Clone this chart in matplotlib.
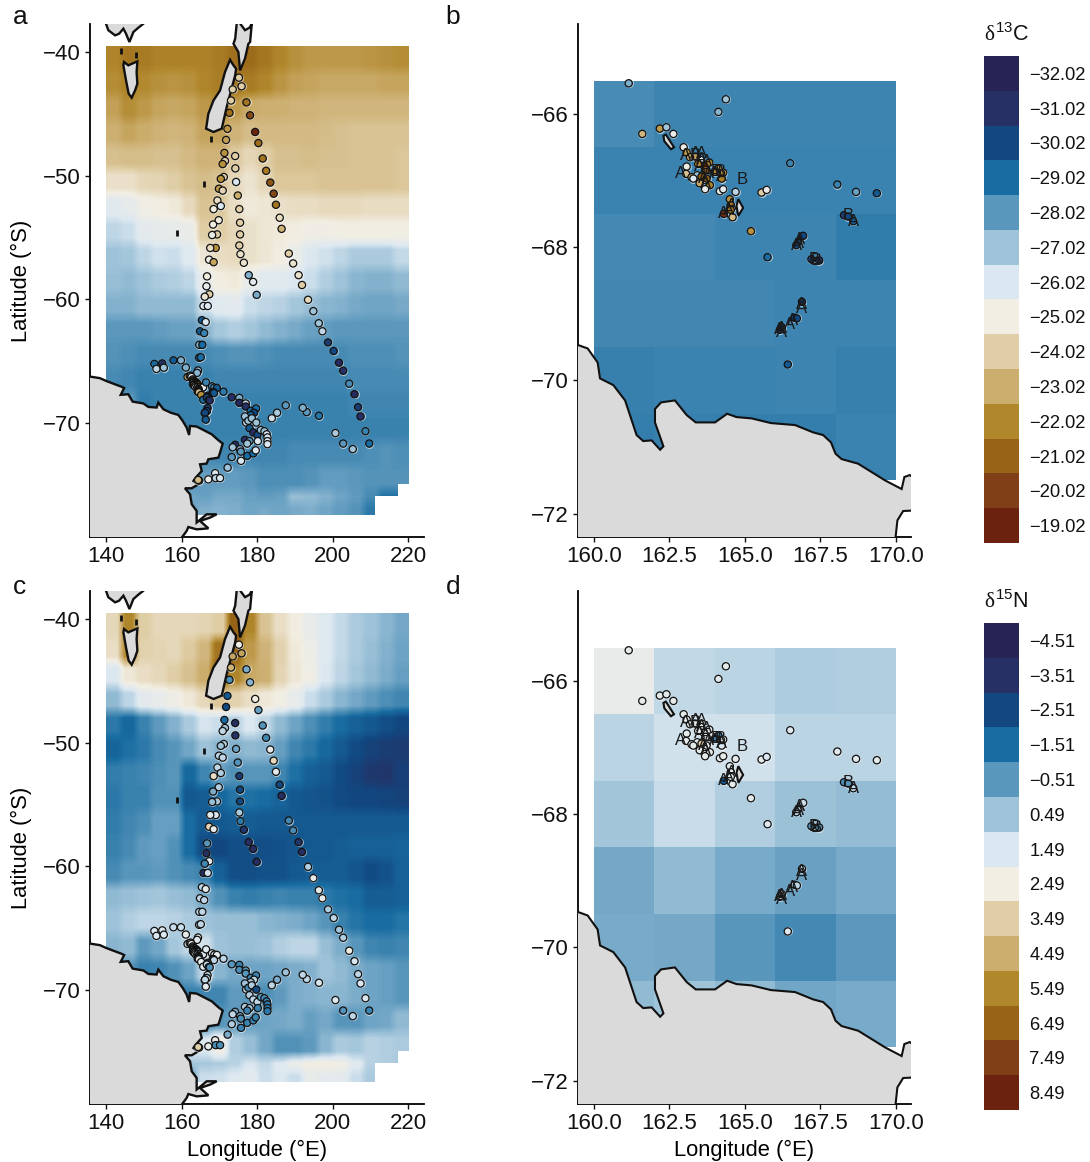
import numpy as np
import matplotlib
matplotlib.use('Agg')
import matplotlib.pyplot as plt
from matplotlib.colors import LinearSegmentedColormap, Normalize
from matplotlib.patches import Polygon

plt.rcParams['font.family'] = ['Liberation Sans', 'DejaVu Sans']
plt.rcParams['mathtext.fontset'] = 'custom'
plt.rcParams['mathtext.rm'] = 'Liberation Sans'
plt.rcParams['mathtext.it'] = 'Liberation Serif'
plt.rcParams['mathtext.default'] = 'rm'

W, H = 1090, 1162

# legend levels, top to bottom
C13_LEVELS = [-32.02, -31.02, -30.02, -29.02, -28.02, -27.02, -26.02,
              -25.02, -24.02, -23.02, -22.02, -21.02, -20.02, -19.02]
N15_LEVELS = [-4.51, -3.51, -2.51, -1.51, -0.51, 0.49, 1.49,
              2.49, 3.49, 4.49, 5.49, 6.49, 7.49, 8.49]
LEVEL_COLORS = ['#262454', '#263064', '#124780', '#186ca1', '#5a97bc', '#9fc3d9', '#dce8f1',
                '#f2eee3', '#e0cea7', '#cbad6d', '#b1872c', '#966317', '#803f16', '#6b220e']

# large map isoscape, 4 deg columns from 140E, rows from -39.5 south
LARGE_ROW_DEG = [2] * 18 + [1, 1]
C13_LARGE = [
    [-22.0, -21.6, -21.7, -21.9, -21.9, -21.9, -21.9, -21.7, -21.4, -21.3, -21.6, -22.0, -22.3, -22.5, -22.5, -22.5, -22.5, -22.4, -22.3, -22.2],
    [-22.2, -21.9, -22.1, -22.3, -22.4, -22.3, -22.0, -21.8, -21.6, -21.7, -22.0, -22.4, -22.7, -22.8, -22.9, -22.9, -22.9, -22.9, -22.8, -22.8],
    [-22.7, -22.2, -22.5, -22.8, -22.9, -22.8, -22.5, -22.2, -22.6, -23.0, -23.1, -23.1, -23.2, -23.2, -23.3, -23.3, -23.3, -23.3, -23.3, -23.3],
    [-23.1, -22.8, -23.0, -23.2, -23.3, -23.2, -22.8, -22.7, -23.2, -23.5, -23.4, -23.4, -23.4, -23.4, -23.5, -23.6, -23.7, -23.7, -23.7, -23.7],
    [-23.6, -23.5, -23.5, -23.6, -23.6, -23.4, -23.2, -23.2, -23.9, -24.3, -24.0, -23.6, -23.6, -23.5, -23.6, -23.6, -23.7, -23.7, -23.7, -23.8],
    [-24.6, -24.6, -24.3, -24.2, -24.0, -23.7, -23.5, -23.7, -24.3, -24.7, -24.3, -23.8, -23.8, -23.8, -23.7, -23.7, -23.7, -23.7, -23.7, -23.8],
    [-25.8, -25.6, -25.2, -25.0, -24.9, -24.4, -23.7, -23.9, -24.5, -24.9, -24.8, -24.6, -24.5, -24.5, -24.4, -24.4, -24.4, -24.5, -24.5, -24.5],
    [-26.5, -26.3, -25.7, -25.6, -25.5, -25.4, -24.0, -24.0, -24.3, -24.6, -24.8, -24.9, -25.0, -25.2, -25.2, -25.1, -25.1, -25.1, -25.1, -25.1],
    [-27.0, -26.9, -26.5, -26.2, -26.3, -25.9, -24.8, -24.5, -24.4, -24.6, -24.8, -25.0, -25.4, -26.0, -26.2, -26.5, -26.8, -26.8, -26.8, -26.4],
    [-27.1, -27.2, -27.0, -26.8, -26.7, -26.5, -25.5, -25.0, -24.9, -25.5, -25.8, -25.8, -26.0, -26.3, -26.7, -27.0, -27.3, -27.4, -27.4, -27.2],
    [-27.4, -27.4, -27.2, -27.2, -27.2, -27.2, -26.3, -25.8, -25.7, -26.3, -26.5, -26.6, -26.9, -27.1, -27.3, -27.4, -27.6, -27.7, -27.7, -27.6],
    [-28.0, -28.0, -28.0, -27.9, -27.8, -27.8, -27.4, -26.9, -26.7, -26.9, -27.2, -27.4, -27.6, -27.8, -27.9, -28.0, -28.0, -28.0, -28.0, -28.0],
    [-28.1, -28.2, -28.3, -28.3, -28.3, -28.3, -28.3, -28.2, -28.1, -28.1, -28.2, -28.3, -28.3, -28.3, -28.3, -28.3, -28.2, -28.2, -28.2, -28.1],
    [-28.3, -28.4, -28.5, -28.5, -28.5, -28.5, -28.5, -28.4, -28.4, -28.4, -28.4, -28.4, -28.4, -28.4, -28.4, -28.4, -28.3, -28.3, -28.3, -28.3],
    [-28.2, -28.0, -28.6, -28.5, -28.5, -28.5, -28.5, -28.5, -28.5, -28.5, -28.5, -28.5, -28.5, -28.5, -28.5, -28.5, -28.4, -28.4, -28.4, -28.4],
    [-28.5, -28.5, -28.5, -28.5, -28.5, -28.5, -28.5, -28.5, -28.5, -28.5, -28.5, -28.5, -28.5, -28.5, -28.5, -28.5, -28.5, -28.5, -28.5, -28.5],
    [-28.3, -28.3, -28.3, -28.3, -28.3, -28.3, -28.3, -28.4, -28.4, -28.4, -28.4, -28.4, -28.3, -28.3, -28.3, -28.3, -28.3, -28.2, -28.1, -28.2],
    [-28.0, -28.0, -28.0, -28.0, -28.0, -28.0, -27.9, -27.9, -27.9, -28.0, -28.2, -28.2, -28.2, -28.1, -27.9, -27.9, -28.0, -28.1, -28.1, -28.1],
    [-27.6, -27.6, -27.6, -27.6, -27.6, -27.7, -27.8, -27.6, -27.6, -27.8, -27.9, -27.8, -27.1, -27.2, -27.4, -27.7, -27.9, -28.3, -28.9, -28.9],
    [-27.8, -27.8, -27.8, -27.8, -27.8, -27.8, -27.5, -27.4, -27.5, -27.7, -27.6, -27.7, -27.6, -27.5, -27.7, -27.9, -28.1, -28.7, np.nan, np.nan],
]
N15_LARGE = [
    [3.2, 5.5, 3.5, 3.2, 3.2, 3.2, 3.3, 3.5, 6.5, 5.5, 3.8, 3.0, 2.5, 2.0, 1.6, 1.1, 0.7, 0.5, 0.2, -0.1],
    [3.0, 5.4, 3.4, 3.3, 3.2, 3.6, 4.2, 6.0, 6.5, 5.0, 4.3, 3.4, 2.6, 2.2, 1.6, 1.1, 0.7, 0.4, 0.1, -0.2],
    [1.5, 2.7, 3.0, 3.2, 3.5, 3.9, 4.5, 6.5, 5.5, 4.6, 4.4, 3.3, 2.7, 2.3, 1.5, 1.0, 0.6, 0.3, 0.0, -0.3],
    [0.3, 1.0, 1.8, 2.0, 2.3, 2.7, 3.2, 3.7, 3.4, 3.0, 2.7, 2.4, 2.0, 1.2, 0.7, 0.2, -0.1, -0.4, -0.7, -0.9],
    [-1.2, -1.6, -1.0, -0.4, 0.1, 0.7, 1.4, 1.2, 0.9, 1.5, 1.0, 0.3, -0.2, -0.7, -1.1, -1.5, -1.8, -2.0, -2.3, -2.5],
    [-1.7, -1.4, -1.2, -0.8, -0.5, -0.1, 0.5, 0.2, 0.1, 0.3, 0.2, -0.3, -0.9, -1.2, -1.6, -2.0, -2.4, -2.7, -2.9, -3.0],
    [-1.1, -1.0, -0.9, -0.7, -0.5, -1.6, -0.9, -0.3, -0.6, -0.5, -0.5, -0.9, -1.4, -1.8, -2.0, -2.4, -2.7, -3.1, -3.2, -2.8],
    [-1.2, -1.0, -1.0, -0.6, -0.6, -2.0, -1.9, -1.6, -1.3, -1.4, -1.5, -1.7, -2.0, -2.1, -2.2, -2.4, -2.5, -2.5, -2.6, -2.7],
    [-1.1, -0.9, -0.7, -0.3, -0.3, -1.5, -2.0, -2.0, -1.9, -1.9, -2.0, -2.0, -2.0, -2.0, -2.0, -2.0, -2.0, -2.0, -2.0, -2.0],
    [-1.0, -0.8, -0.4, -0.3, -0.6, -1.5, -2.4, -2.5, -2.3, -2.3, -2.3, -2.2, -2.1, -2.0, -2.0, -1.9, -1.8, -1.8, -1.8, -1.7],
    [-0.8, -0.5, -0.5, -0.4, -0.6, -0.8, -1.0, -1.8, -2.3, -2.3, -2.2, -2.2, -2.0, -1.9, -1.9, -1.9, -2.1, -2.4, -2.2, -1.8],
    [0.3, 0.4, 0.5, 0.6, 0.4, 0.3, -0.1, -0.6, -1.0, -1.1, -1.0, -0.9, -1.0, -1.0, -1.2, -1.4, -1.5, -1.9, -1.9, -1.8],
    [0.5, 0.8, 1.0, 1.0, 0.9, 0.7, 0.5, 0.4, 0.4, 0.4, 0.2, 0.1, 0.0, -0.2, -0.5, -1.0, -1.3, -1.5, -1.5, -1.3],
    [0.2, 0.3, -0.4, -0.1, 0.6, 1.0, 1.3, 0.5, 0.4, 0.4, 0.5, 0.8, 1.0, 1.0, 0.4, 0.0, -0.5, -0.9, -1.0, -0.9],
    [-0.5, -0.5, -1.0, -0.9, -0.6, -0.2, 1.0, 0.2, -0.1, -0.2, -0.2, -0.1, 0.0, 0.1, 0.5, 0.3, 0.0, -0.2, -0.3, -0.5],
    [-0.8, -0.8, -0.8, -0.8, -0.8, -1.0, -0.9, -0.9, -0.4, -0.5, -0.7, -0.4, 0.0, 0.1, 0.2, 0.2, 0.0, -0.2, -0.3, -0.5],
    [-0.5, -0.5, -0.5, -0.5, -0.5, -0.5, -0.7, -0.5, -0.4, -0.3, -0.2, -0.1, 0.0, -0.3, -0.1, -0.5, -0.5, -0.2, -0.1, 0.3],
    [1.0, 1.0, 1.0, 1.0, 1.0, 1.5, 1.5, 2.4, 0.8, 0.4, -0.1, -0.6, -0.6, -0.4, 0.2, 0.7, 0.6, 0.9, 0.8, 0.7],
    [0.6, 0.6, 0.6, 0.6, 0.6, 0.6, 0.6, 0.7, 0.9, 1.4, 1.1, 1.6, 2.2, 2.5, 2.6, 2.4, 1.7, 0.9, 0.8, 0.6],
    [-0.2, -0.2, -0.2, -0.2, -0.2, -0.2, 1.2, 1.3, 1.6, 1.8, 1.2, 1.5, 1.2, 2.0, 1.8, 1.8, 1.2, 0.7, np.nan, np.nan],
]

# zoomed map isoscape, 2 by 1 deg cells
ZOOM_LON_EDGES = [160, 162, 164, 166, 168, 170]
ZOOM_LAT_EDGES = [-65.5, -66.5, -67.5, -68.5, -69.5, -70.5, -71.5]
C13_ZOOM = [
    [-28.27, -28.45, -28.45, -28.45, -28.42],
    [-28.5, -28.5, -28.47, -28.47, -28.47],
    [-28.35, -28.35, -28.45, -28.45, -28.62],
    [-28.4, -28.4, -28.37, -28.42, -28.45],
    [-28.55, -28.5, -28.47, -28.42, -28.55],
    [-28.6, -28.55, -28.6, -28.6, -28.5],
]
N15_ZOOM = [
    [2.0, 1.05, 0.95, 0.75, 0.8],
    [0.95, 1.3, 1.3, 0.95, 0.95],
    [0.55, 1.15, 0.8, 0.45, 0.35],
    [-0.1, 0.3, -0.05, -0.25, -0.05],
    [-0.05, -0.1, -0.5, -0.85, -0.45],
    [0.3, 0.5, 0.3, -0.15, -0.05],
]

# stations: along the transects, Ross Sea shelf, Balleny / Terra Nova cluster
STN_LON = [175.2, 175.9, 173.55, 173.1, 177.2, 172.7, 178.15, 172.15, 179.5, 180.35,
           171.8, 171.35, 174.2, 181.5, 171.5, 170.9, 174.25, 182.4, 171.2, 170.4,
           174.45, 183.5, 169.9, 170.9, 174.9, 184.4, 169.5, 170.4, 185.0, 168.5,
           175.3, 186.0, 169.85, 168.35, 175.5, 186.5, 169.4, 168.1, 175.5, 175.3,
           169.05, 167.6, 188.4, 175.6, 167.3, 168.5, 176.5, 189.55, 177.8, 166.75,
           191.0, 178.95, 166.6, 191.9, 179.9, 167.35, 166.15, 165.8, 166.95, 193.5,
           194.9, 196.35, 197.3, 165.4, 166.4, 164.9, 166.0, 198.8, 164.7, 165.5,
           200.3, 201.7, 202.8, 204.4, 205.8, 206.75, 207.4, 208.7, 209.7, 205.35,
           202.8, 200.75, 196.4, 193.15, 192.1, 187.6, 185.3, 183.9, 152.8, 154.9,
           153.35, 155.3, 157.85, 159.85, 164.65, 165.1, 171.1,
           # east shelf
           173.3, 175.3, 175.3, 177.0, 177.0, 178.3, 179.75, 179.2, 178.3, 176.8,
           177.1, 177.7, 178.6, 179.8, 178.0, 179.0, 180.1, 181.0, 181.95, 182.55,
           182.75, 182.75, 182.75, 180.2, 176.8, 178.0, 177.4, 174.2, 173.55, 175.5,
           173.3, 175.75, 175.7, 177.4, 179.0, 179.65, 172.2, 168.9, 167.1, 169.05,
           170.2, 164.65, 164.4,
           # cluster
           161.15, 164.37, 164.12, 161.6, 162.18, 162.4, 162.63, 162.97, 163.07, 163.35,
           163.18, 163.53, 163.82, 163.64, 163.45, 163.07, 163.7, 164.12, 164.28, 164.0,
           163.05, 163.23, 163.42, 163.56, 163.73, 164.23, 163.29, 163.84, 163.5, 163.68,
           164.17, 164.28, 164.69, 165.55, 165.72, 164.5, 164.53, 164.53, 164.3, 164.59,
           165.2, 165.75, 166.5, 168.06, 168.68, 169.37, 168.28, 168.42, 168.59, 166.93,
           166.77, 166.7, 167.2, 167.46, 166.89, 166.65, 166.72, 166.16, 166.22, 166.42]
STN_LAT = [-42.05, -42.75, -43.0, -43.9, -44.05, -44.9, -45.1, -46.2, -46.45, -47.35,
           -47.1, -48.15, -48.4, -48.6, -48.8, -49.05, -49.4, -49.6, -50.1, -50.25,
           -50.5, -50.55, -51.05, -51.2, -51.6, -51.45, -52.0, -52.45, -52.35, -52.7,
           -52.7, -53.4, -53.6, -53.95, -53.8, -54.3, -54.75, -54.8, -54.75, -55.65,
           -55.85, -55.85, -56.3, -56.35, -56.8, -57.0, -57.05, -57.1, -58.05, -58.15,
           -58.05, -58.6, -58.95, -58.85, -59.65, -59.6, -59.8, -60.55, -60.55, -60.05,
           -60.97, -61.95, -62.6, -61.7, -61.85, -62.6, -62.75, -63.5, -63.7, -63.7,
           -64.2, -65.15, -65.8, -66.85, -67.7, -68.75, -69.5, -70.7, -71.7, -72.15,
           -71.7, -70.85, -69.45, -69.15, -68.8, -68.6, -69.2, -69.65, -65.25, -65.2,
           -65.65, -65.55, -64.95, -64.95, -64.75, -64.7, -67.5,
           -67.95, -68.0, -68.4, -68.45, -68.7, -69.05, -68.85, -69.2, -69.4, -69.5,
           -70.0, -69.85, -69.65, -70.0, -70.45, -70.8, -71.0, -70.6, -70.7, -70.95,
           -71.2, -71.5, -71.75, -71.5, -71.4, -71.5, -71.7, -71.8, -72.0, -72.15,
           -72.8, -73.1, -72.35, -72.7, -72.5, -72.25, -73.65, -74.1, -74.6, -74.5,
           -74.5, -74.7, -74.65,
           -65.54, -65.78, -65.97, -66.3, -66.22, -66.2, -66.3, -66.5, -66.58, -66.64,
           -66.65, -66.69, -66.73, -66.78, -66.75, -66.79, -66.84, -66.82, -66.88, -66.87,
           -66.9, -66.95, -66.92, -66.94, -66.97, -66.97, -66.97, -67.07, -67.04, -67.13,
           -67.16, -67.13, -67.17, -67.18, -67.14, -67.28, -67.37, -67.44, -67.5, -67.55,
           -67.76, -68.15, -66.74, -67.06, -67.17, -67.19, -67.52, -67.54, -67.61, -67.83,
           -67.92, -67.97, -68.18, -68.2, -68.82, -69.06, -69.07, -69.24, -69.2, -69.76]
STN_C13 = [-24.0, -24.0, -24.0, -24.0, -21.5, -21.3, -20.3, -22.4, -19.0, -21.3,
           -22.7, -22.3, -24.0, -21.5, -24.2, -22.3, -24.0, -21.7, -24.0, -22.3,
           -26.0, -20.6, -22.5, -24.2, -23.0, -20.3, -24.5, -26.0, -21.5, -25.0,
           -24.0, -24.5, -25.0, -25.0, -24.0, -23.2, -24.0, -25.3, -24.0, -24.0,
           -22.3, -24.5, -24.0, -24.6, -25.0, -22.8, -24.7, -24.7, -27.5, -25.0,
           -24.7, -25.8, -25.6, -24.0, -27.6, -24.0, -24.8, -26.0, -26.0, -24.4,
           -27.0, -27.0, -26.5, -29.5, -26.0, -29.5, -28.5, -30.5, -27.3, -29.0,
           -30.0, -31.5, -31.0, -28.3, -31.5, -30.5, -31.0, -28.5, -29.0, -27.0,
           -28.0, -26.8, -28.8, -28.0, -27.5, -28.0, -26.8, -26.2, -29.0, -31.0,
           -26.5, -27.0, -29.5, -27.5, -28.7, -29.0, -28.7,
           -31.0, -27.5, -31.5, -26.5, -31.0, -29.0, -29.0, -30.0, -29.0, -27.0,
           -26.5, -27.0, -27.0, -27.0, -29.5, -31.0, -30.0, -27.0, -27.0, -26.0,
           -26.0, -26.0, -26.0, -26.0, -31.0, -28.0, -27.0, -31.0, -27.0, -27.0,
           -28.0, -26.0, -28.0, -29.0, -29.0, -26.0, -27.0, -26.0, -25.5, -26.5,
           -26.0, -24.0, -23.5,
           -27.5, -27.0, -27.3, -23.3, -22.5, -27.0, -25.5, -25.2, -22.5, -22.8,
           -23.0, -26.0, -22.0, -19.0, -22.0, -25.2, -21.0, -22.3, -22.5, -22.0,
           -23.7, -23.0, -27.0, -21.0, -21.0, -21.8, -26.0, -22.0, -23.0, -25.5,
           -25.7, -25.7, -26.5, -24.0, -25.5, -22.3, -21.5, -21.5, -19.5, -23.5,
           -22.3, -29.0, -28.5, -28.5, -27.8, -29.5, -30.5, -30.0, -29.5, -30.0,
           -30.0, -30.0, -30.5, -31.0, -30.5, -30.0, -30.0, -30.5, -30.0, -29.5]
STN_N15 = [2.4, 4.7, 4.7, 4.3, 0.0, -0.7, 0.2, -2.0, 2.5, -0.3,
           -2.5, -1.5, -3.6, -0.6, 0.6, 1.0, -3.4, -0.9, 0.9, 0.5,
           -0.2, 2.0, 1.0, 1.0, -0.6, 3.2, 1.0, 0.8, 1.8, 3.0,
           -3.0, -2.5, 0.8, 0.0, -2.5, -3.6, 0.7, 0.4, -2.5, 0.7,
           1.5, 1.8, -0.9, -1.2, 3.3, 2.0, -3.2, -0.8, -3.6, -0.5,
           -3.3, -3.6, -3.5, -3.6, -3.7, 1.6, -0.9, -3.5, 1.4, 0.8,
           1.8, 1.8, 2.0, 1.0, 1.8, 1.0, 1.0, 0.7, 1.0, 1.0,
           1.0, 0.6, 0.8, 2.3, 1.5, 1.0, 1.5, 1.5, -1.0, 1.0,
           -0.6, 1.5, 1.4, 1.0, 1.0, 0.5, 0.0, 1.0, 1.5, 1.5,
           1.5, 1.5, 1.2, 1.2, 1.0, 1.0, 1.0,
           -0.5, -1.0, -0.8, -0.5, -0.5, -1.0, -1.0, 1.0, 0.8, 0.5,
           1.0, -0.8, 0.8, -2.5, 0.8, 1.0, 1.0, -0.5, -0.8, -1.0,
           -1.2, -1.2, -1.2, -1.0, 0.8, 0.8, -1.0, 0.0, 1.0, 0.0,
           0.8, -1.0, -0.7, -1.0, -1.0, -1.0, 0.0, 2.0, 2.0, -0.7,
           -0.7, 3.5, 3.5,
           1.9, 1.9, 1.7, 1.9, 1.9, 1.8, 1.9, 1.9, 1.8, 1.9,
           1.8, 1.9, 1.8, 1.7, 1.8, 1.9, 1.7, -1.0, 1.8, -1.0,
           1.9, 1.9, 1.8, 3.5, 1.8, 1.5, 1.9, 1.8, 1.9, 1.9,
           1.9, 1.9, 1.9, 1.9, 1.5, 1.8, 1.7, 1.8, -2.0, 1.9,
           1.9, 1.7, 1.6, 1.7, 1.8, 1.9, -0.8, -0.5, 1.0, 1.2,
           1.0, 1.0, -0.6, -0.6, 1.0, 1.0, 1.0, 1.0, 1.0, 1.7]

# 'A' / 'B' labels of the zoomed maps
LABEL_TEXT = ['A', 'A', 'A', 'B', 'A', 'B', 'A', 'A', 'A', 'A', 'A', 'A', 'A', 'A', 'B', 'A', 'B', 'A',
              'A', 'A', 'B', 'A', 'A', 'A', 'A', 'B', 'B', 'A', 'A', 'A', 'A', 'A', 'A', 'A']
LABEL_LON = [163.04, 163.37, 163.57, 163.34, 162.85, 164.91, 164.28, 163.51, 163.68, 163.79, 163.62, 163.68,
             163.57, 163.73, 164.04, 164.23, 164.17, 164.0, 164.56, 164.45, 168.42, 168.61, 166.77, 166.72,
             166.82, 167.3, 167.35, 166.89, 166.87, 166.59, 166.49, 166.16, 166.22, 166.2]
LABEL_LAT = [-66.62, -66.59, -66.59, -66.62, -66.89, -66.98, -67.5, -66.79, -66.82, -66.89, -66.97, -67.04,
             -66.69, -66.72, -66.87, -66.94, -66.87, -66.9, -67.37, -67.45, -67.53, -67.61, -67.94, -67.97,
             -67.89, -68.18, -68.2, -68.86, -68.92, -69.1, -69.16, -69.24, -69.28, -69.22]

# coastlines, lon / lat, closing points fall outside the map frames
ANT_LARGE_LON = [135, 135.76, 138.4, 140, 142.4, 144.15, 144.8, 143.9, 145.9, 147.05, 149.9, 151.2, 153.4, 153.85,
                 155.2, 157.15, 159.15, 160.3, 161.35, 162, 162.25, 164, 165.8, 168, 169.75, 170.9, 170.2, 169.75,
                 167.1, 166.65, 164.9, 165.35, 163.6, 163.15, 164.45, 162.7, 160.9, 162.25, 162.7, 164, 164, 166.65,
                 169.3, 167.55, 164.9, 167.1, 164, 161.8, 161.35, 160.05, 160, 135]
ANT_LARGE_LAT = [-66.2, -66.27, -66.4, -66.62, -66.9, -67.1, -67.2, -67.75, -67.7, -68.3, -68.45, -68.73, -68.78, -68.38,
                 -68.92, -69.2, -69.38, -69.86, -70.4, -71, -70.27, -70.32, -70.6, -70.95, -71.43, -71.7, -72.43, -72.84,
                 -72.97, -73.32, -73.38, -73.92, -74.51, -74.73, -75, -75.32, -75.32, -75.81, -76.62, -77.16, -78.1, -77.43,
                 -77.43, -77.7, -77.97, -78.57, -78.65, -78.46, -78.78, -79.32, -80, -80]
AUS_LON = [139.5, 140, 140.6, 142.4, 143.45, 144.6, 145.3, 146.2, 147.25, 148.55, 149.9, 150.5]
AUS_LAT = [-37, -37.68, -38.2, -38.62, -38.49, -38.08, -38.49, -39.16, -38.35, -38, -37.68, -37]
TAS_LON = [144.77, 145.9, 148.3, 148.1, 148.3, 147.7, 146.8, 146.0, 145.3, 144.6]
TAS_LAT = [-40.78, -41.05, -40.73, -41.6, -42.54, -43.08, -43.67, -43.35, -42.27, -41.05]
NZS_LON = [172.85, 171.5, 170.2, 168.45, 167.1, 166.5, 168.45, 170.65, 171.95, 174.2, 174.45, 173.75]
NZS_LAT = [-40.6, -41.6, -43.08, -43.9, -44.97, -46.18, -46.45, -46.18, -44.43, -41.86, -41.32, -41.05]
NZN_LON = [173.75, 174.6, 174.2, 173.75, 175.05, 175.5, 176.8, 177.7, 178.15, 178.6, 178.0, 176.8, 175.6, 174.9]
NZN_LAT = [-37, -37.68, -38.9, -39.3, -39.97, -41.46, -40.5, -39.3, -39.16, -37.68, -38.0, -38.2, -37.7, -37]
# tiny islands, drawn black: centre lon, lat
ISLET_LON = [143.9, 147.95, 166.05, 158.9, 167.7]
ISLET_LAT = [-39.85, -40.25, -50.7, -54.6, -47.0]

ANT_ZOOM_LON = [159.3, 159.48, 159.79, 160.12, 160.2, 160.64, 161.03, 161.41, 161.63, 161.91, 162.19, 162.3, 162.02, 162.02,
                162.22, 162.68, 163.07, 163.37, 164.01, 164.41, 164.72, 165.22, 165.86, 166.66, 167.26, 167.59, 167.85, 168,
                168.2, 168.75, 169.64, 170.19, 170.28, 170.46, 170.7, 170.7, 170.24, 170.05, 169.99, 169.97, 159.3]
ANT_ZOOM_LAT = [-69.45, -69.47, -69.52, -69.73, -69.97, -70.07, -70.3, -70.82, -70.91, -70.9, -71.04, -70.99, -70.63, -70.43,
                -70.33, -70.3, -70.52, -70.63, -70.63, -70.5, -70.55, -70.57, -70.64, -70.67, -70.78, -70.82, -70.93, -71.1,
                -71.18, -71.25, -71.5, -71.63, -71.45, -71.42, -71.5, -71.95, -71.96, -72.1, -72.35, -72.6, -72.6]
ISL1_LON = [162.3, 162.38, 162.65, 162.55, 162.33]
ISL1_LAT = [-66.33, -66.31, -66.5, -66.53, -66.41]
ISL2_LON = [164.78, 164.94, 164.78, 164.72]
ISL2_LAT = [-67.28, -67.41, -67.53, -67.38]

LAND = '#dadada'


def px_axes(fig, left, top, right, bottom):
    return fig.add_axes([left / W, 1 - bottom / H, (right - left) / W, (bottom - top) / H])


def land(ax, lon, lat, lw=1.5):
    ax.add_patch(Polygon(np.column_stack([lon, lat]), closed=True, facecolor=LAND,
                         edgecolor='#111111', linewidth=lw, zorder=3))


def style(ax, xticks, xlabels, yticks):
    for side in ['top', 'right']:
        ax.spines[side].set_visible(False)
    for side in ['left', 'bottom']:
        ax.spines[side].set_linewidth(1.3)
    ax.set_xticks(xticks)
    ax.set_xticklabels(xlabels)
    ax.set_yticks(yticks)
    ax.tick_params(labelsize=16, length=3.5, width=1, pad=3, colors='#111111')


def dots(ax, lon, lat, val, cmap, norm):
    ax.scatter(lon, lat, s=42, c='white', linewidths=0, alpha=0.55, zorder=4)
    ax.scatter(lon, lat, s=27, c=val, cmap=cmap, norm=norm, edgecolors='#111111', linewidths=0.9, zorder=5)


def large_map(ax, grid, val, cmap, norm):
    # one pixel row per degree, one column per 2 deg, the second last row stops at 218E
    g = np.repeat(np.array(grid, dtype=float), LARGE_ROW_DEG, axis=0)
    g = np.repeat(g, 2, axis=1)
    g[-2, -1] = np.nan
    ax.imshow(np.ma.masked_invalid(g), extent=(140, 220, -77.5, -39.5), origin='upper', aspect='auto',
              cmap=cmap, norm=norm, interpolation='bilinear', interpolation_stage='data', zorder=1)
    land(ax, ANT_LARGE_LON, ANT_LARGE_LAT, lw=1.7)
    land(ax, AUS_LON, AUS_LAT, lw=1.7)
    land(ax, TAS_LON, TAS_LAT, lw=1.7)
    land(ax, NZS_LON, NZS_LAT, lw=1.7)
    land(ax, NZN_LON, NZN_LAT, lw=1.7)
    ax.scatter(ISLET_LON, ISLET_LAT, s=22, c='#111111', marker='|', zorder=3, linewidths=2)
    dots(ax, STN_LON, STN_LAT, val, cmap, norm)
    ax.set_xlim(135.76, 224.2)
    ax.set_ylim(-79.27, -37.7)
    style(ax, [140, 160, 180, 200, 220], ['140', '160', '180', '200', '220'], [-40, -50, -60, -70])
    ax.set_ylabel('Latitude (°S)', fontsize=15.8, va='center')
    ax.yaxis.set_label_coords(-0.204, 0.5)


def zoom_map(ax, grid, val, cmap, norm):
    ax.pcolormesh(ZOOM_LON_EDGES, ZOOM_LAT_EDGES, np.array(grid), cmap=cmap, norm=norm, zorder=1)
    land(ax, ANT_ZOOM_LON, ANT_ZOOM_LAT)
    land(ax, ISL1_LON, ISL1_LAT)
    land(ax, ISL2_LON, ISL2_LAT)
    lon = np.array(STN_LON)
    lat = np.array(STN_LAT)
    keep = (lon >= 160) & (lon <= 170) & (lat <= -65.5)
    dots(ax, lon[keep], lat[keep], np.array(val)[keep], cmap, norm)
    for txt, x, y in zip(LABEL_TEXT, LABEL_LON, LABEL_LAT):
        ax.text(x, y, txt, fontsize=12, color='#1a1a1a', ha='center', va='center', zorder=6)
    ax.set_xlim(159.47, 170.5)
    ax.set_ylim(-72.35, -64.65)
    style(ax, [160, 162.5, 165, 167.5, 170], ['160.0', '162.5', '165.0', '167.5', '170.0'], [-66, -68, -70, -72])


def legend_bar(fig, top, levels, title, title_y):
    ax = px_axes(fig, 984, top, 1019, top + 487)
    colors = LinearSegmentedColormap.from_list('bar', LEVEL_COLORS, N=14)
    ax.pcolormesh([0, 1], np.arange(15), np.arange(14).reshape(-1, 1), cmap=colors)
    ax.set_ylim(14, 0)
    ax.set_xticks([])
    ax.yaxis.tick_right()
    ax.set_yticks(np.arange(14) + 0.5)
    ax.set_yticklabels([f'{v:.2f}'.replace('-', '\u2212') for v in levels])
    ax.tick_params(length=0, pad=7.5, labelsize=13.2, colors='#111111')
    for s in ax.spines.values():
        s.set_visible(False)
    fig.text(984 / W, 1 - title_y / H, title, fontsize=15.5, ha='left', va='center', color='#111111')


fig = plt.figure(figsize=(W / 100, H / 100), dpi=100, facecolor='white')

cmap = LinearSegmentedColormap.from_list('iso', LEVEL_COLORS)
norm_c = Normalize(C13_LEVELS[0], C13_LEVELS[-1])
norm_n = Normalize(N15_LEVELS[0], N15_LEVELS[-1])

ax_a = px_axes(fig, 90, 24, 424, 537)
ax_b = px_axes(fig, 578, 24, 911, 537)
ax_c = px_axes(fig, 90, 591, 424, 1104)
ax_d = px_axes(fig, 578, 591, 911, 1104)

large_map(ax_a, C13_LARGE, STN_C13, cmap, norm_c)
large_map(ax_c, N15_LARGE, STN_N15, cmap, norm_n)
zoom_map(ax_b, C13_ZOOM, STN_C13, cmap, norm_c)
zoom_map(ax_d, N15_ZOOM, STN_N15, cmap, norm_n)

for ax in [ax_c, ax_d]:
    ax.set_xlabel('Longitude (°E)', fontsize=15.8, va='center')
    ax.xaxis.set_label_coords(0.5, -0.09)

for letter, x, y in [('a', 20, 17), ('b', 453, 17), ('c', 20, 587), ('d', 453, 587)]:
    fig.text(x / W, 1 - y / H, letter, fontsize=19, ha='center', va='center', color='#111111')

legend_bar(fig, 56, C13_LEVELS, r'$\mathit{\delta}^{13}\mathrm{C}$', 35)
legend_bar(fig, 623, N15_LEVELS, r'$\mathit{\delta}^{15}\mathrm{N}$', 602)

fig.savefig('out.png', dpi=100)
